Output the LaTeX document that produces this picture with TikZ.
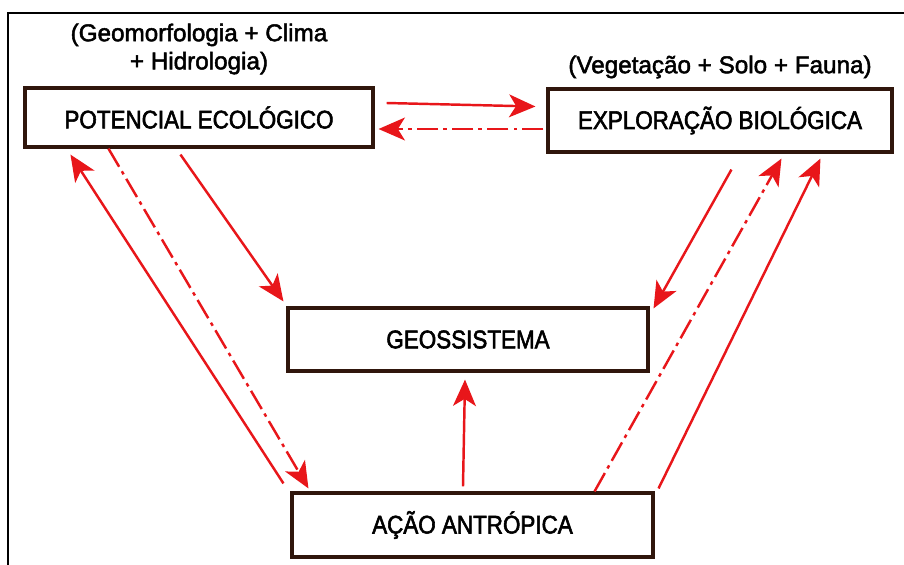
\documentclass[tikz,border=0pt]{standalone}
\usepackage{fontspec}
\setmainfont[FakeBold=2]{Liberation Sans}
\newfontfamily\rotulo[FakeBold=2.2, FakeStretch=0.88]{Liberation Sans}
\usetikzlibrary{arrows.meta,calc}
\definecolor{vermelho}{RGB}{232,22,26}
\definecolor{borda}{RGB}{48,22,12}
\tikzset{
  caixa/.style={draw=borda, line width=1.8pt, fill=white, inner sep=0pt, font=\rotulo\fontsize{14.5pt}{16pt}\selectfont},
  seta/.style={vermelho, line width=1.4pt, -{Stealth[length=15pt,width=13pt,inset=4pt]}},
  tracoponto/.style={dash pattern=on 12pt off 3pt on 2pt off 3pt},
  legenda/.style={align=center, font=\fontsize{13.8pt}{16pt}\selectfont}
}
\begin{document}
\begin{tikzpicture}[x=0.02cm, y=-0.02cm]
  \useasboundingbox (0,0) rectangle (904,565);
  \draw[line width=1.2pt] (8,565) -- (8,13) -- (904,13); % moldura
  % caixas
  \node[caixa, minimum width=6.96cm, minimum height=1.18cm] (pot) at (199,117.5) {POTENCIAL ECOLÓGICO};
  \node[caixa, minimum width=6.88cm, minimum height=1.26cm] (expl) at (720,120.5) {EXPLORAÇÃO BIOLÓGICA};
  \node[caixa, minimum width=7.2cm, minimum height=1.26cm] (geo) at (468,339.5) {GEOSSISTEMA};
  \node[caixa, minimum width=7.22cm, minimum height=1.28cm] (acao) at (472.5,525) {AÇÃO ANTRÓPICA};
  \node[legenda] (subpot) at (199,49) {(Geomorfologia + Clima\\+ Hidrologia)};
  \node[legenda] (subexpl) at (720,67) {(Vegetação + Solo + Fauna)};
  % setas entre as caixas
  \draw[seta] ($(pot.east)+(12,-14.5)$) -- ($(expl.west)+(-11,-14)$);
  \draw[seta, tracoponto] ($(expl.west)+(-3,8.5)$) -- ($(pot.east)+(4,11.5)$);
  \draw[seta] ($(pot.south west)+(157,6)$) -- ($(geo.north west)+(-3,-5)$);
  \draw[seta, tracoponto] ($(pot.south west)+(85,0)$) -- ($(acao.north west)+(18,-3)$);
  \draw[seta] ($(acao.north west)+(-7,-8)$) -- ($(pot.south west)+(47,6)$);
  \draw[seta] ($(expl.south west)+(185,16)$) -- ($(geo.north east)+(4,2)$);
  \draw[seta, tracoponto] ($(acao.north east)+(-60,0)$) -- ($(expl.south west)+(235,5)$);
  \draw[seta] ($(acao.north east)+(4,-3)$) -- ($(expl.south west)+(274,5)$);
  \draw[seta] ($(acao.north)+(-9.5,-5)$) -- ($(geo.south)+(-3,7)$);
\end{tikzpicture}
\end{document}
